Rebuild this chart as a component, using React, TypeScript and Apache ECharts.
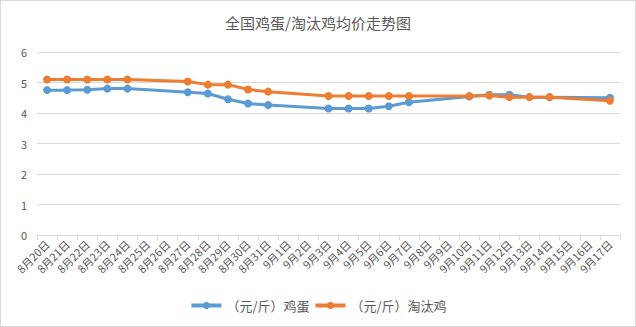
import React, { useEffect, useRef } from "react";
import * as echarts from "echarts";

const categories: string[] = [
  "8月20日", "8月21日", "8月22日", "8月23日", "8月24日", "8月25日", "8月26日", "8月27日",
  "8月28日", "8月29日", "8月30日", "8月31日", "9月1日", "9月2日", "9月3日", "9月4日",
  "9月5日", "9月6日", "9月7日", "9月8日", "9月9日", "9月10日", "9月11日", "9月12日",
  "9月13日", "9月14日", "9月15日", "9月16日", "9月17日",
];

const eggPrices: (number | null)[] = [
  4.75, 4.75, 4.76, 4.8, 4.8, null, null, 4.68,
  4.64, 4.45, 4.31, 4.26, null, null, 4.15, 4.15,
  4.15, 4.22, 4.35, null, null, 4.54, 4.6, 4.6,
  4.52, 4.52, null, null, 4.5,
];

const henPrices: (number | null)[] = [
  5.1, 5.1, 5.1, 5.1, 5.1, null, null, 5.03,
  4.93, 4.93, 4.77, 4.7, null, null, 4.56, 4.56,
  4.56, 4.56, 4.56, null, null, 4.56, 4.57, 4.52,
  4.52, 4.52, null, null, 4.4,
];

const seriesNames = ["（元/斤）鸡蛋", "（元/斤）淘汰鸡"];
const title = "全国鸡蛋/淘汰鸡均价走势图";

export default function App() {
  const ref = useRef<HTMLDivElement>(null);
  useEffect(() => {
    document.body.style.margin = "0";
    if (!ref.current) return;
    const chart = echarts.init(ref.current, null, { renderer: "svg" });
    const font = "'Noto Sans CJK SC', 'Noto Sans', sans-serif";
    const mk = (name: string, data: (number | null)[], color: string) => ({
      name,
      type: "line",
      data,
      connectNulls: true,
      symbol: "circle",
      symbolSize: 8,
      lineStyle: { width: 3, color },
      itemStyle: { color },
    });
    chart.setOption({
      animation: false,
      textStyle: { fontFamily: font },
      title: {
        text: title,
        left: "center",
        top: 9,
        textStyle: { fontSize: 15, fontWeight: "normal", color: "#595959", fontFamily: font },
      },
      grid: { left: 36, right: 15, top: 51, bottom: 91, containLabel: false },
      legend: {
        bottom: 9,
        left: "center",
        itemWidth: 30,
        itemHeight: 9,
        itemGap: 4,
        itemStyle: {},
        lineStyle: { width: 4 },
        textStyle: { fontSize: 13, color: "#595959", fontFamily: font },
        data: seriesNames,
      },
      xAxis: {
        type: "category",
        data: categories,
        boundaryGap: true,
        axisLine: { lineStyle: { color: "#d9d9d9" } },
        axisTick: { show: true, alignWithLabel: false, length: 5, lineStyle: { color: "#d9d9d9" } },
        axisLabel: { rotate: 45, interval: 0, fontSize: 11, color: "#595959", margin: 7 },
      },
      yAxis: {
        type: "value",
        min: 0,
        max: 6,
        interval: 1,
        axisLine: { show: false },
        axisTick: { show: false },
        axisLabel: { fontSize: 11, color: "#595959", margin: 10 },
        splitLine: { lineStyle: { color: "#d9d9d9" } },
      },
      series: [
        mk(seriesNames[0], eggPrices, "#5B9BD5"),
        mk(seriesNames[1], henPrices, "#ED7D31"),
      ],
    });
    return () => chart.dispose();
  }, []);
  return (
    <div
      style={{
        position: "fixed",
        left: 0,
        top: 0,
        width: 636,
        height: 327,
        boxSizing: "border-box",
        border: "1px solid #d9d9d9",
        background: "#fff",
      }}
    >
      <div ref={ref} style={{ width: 634, height: 325 }} />
    </div>
  );
}
